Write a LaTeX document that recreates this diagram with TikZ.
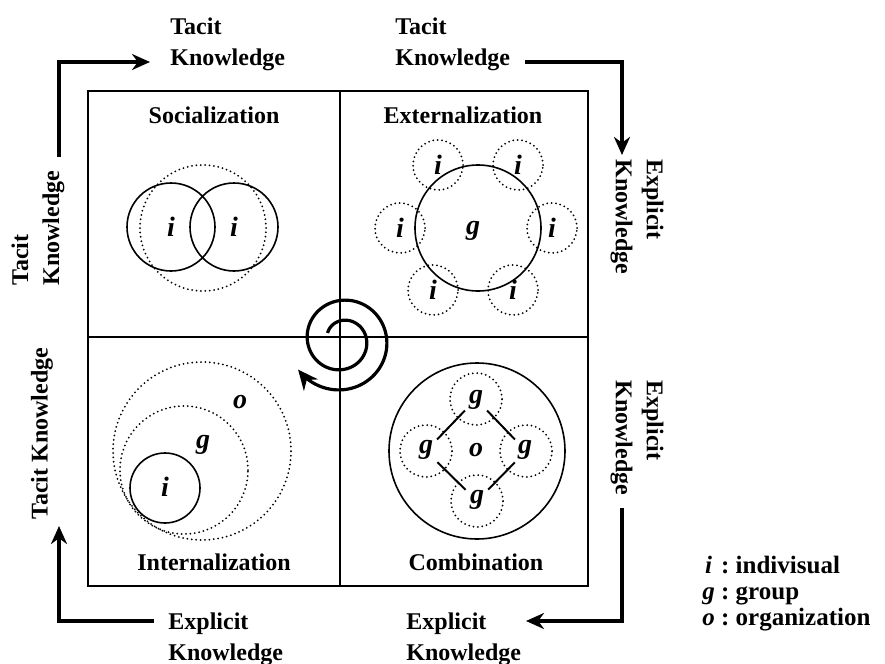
\documentclass[tikz,border=0pt]{standalone}
\usepackage{fontspec}
\setmainfont{Liberation Serif}
\usetikzlibrary{arrows.meta}
\begin{document}
\begin{tikzpicture}[x=0.5pt,y=-0.5pt,
  lbl/.style={font=\fontsize{12}{15.5}\selectfont\bfseries, inner sep=0pt, align=left},
  qlbl/.style={font=\fontsize{12}{14}\selectfont\bfseries, inner sep=0pt},
  var/.style={font=\fontsize{14}{14}\selectfont\bfseries\itshape, inner sep=0pt},
  solidc/.style={circle, draw, line width=0.8pt, inner sep=0pt},
  dotc/.style={circle, draw, line width=1pt, dash pattern=on 0pt off 2.2pt, line cap=round, inner sep=0pt},
  flow/.style={line width=2pt, -{Stealth[length=9pt,width=8pt]}},
  frame/.style={line width=0.8pt},
  link/.style={line width=1pt, shorten <=8pt, shorten >=8pt}
]
\useasboundingbox[fill=white] (0,0) rectangle (885,664);

% frame
\draw[frame] (88,91) rectangle (588,586);
\draw[frame] (340,91) -- (340,586);
\draw[frame] (88,337) -- (588,337);

% quadrant titles
\node[qlbl] (soc) at (214,115) {Socialization};
\node[qlbl] (ext) at (463,115) {Externalization};
\node[qlbl] (int) at (214,562) {Internalization};
\node[qlbl] (com) at (476,562) {Combination};

% outer labels
\node[lbl, anchor=west] (topL) at (170,44) {Tacit\\Knowledge};
\node[lbl, anchor=west] (topR) at (395,44) {Tacit\\Knowledge};
\node[lbl, anchor=west, rotate=-90] (rightU) at (637,159) {Explicit\\Knowledge};
\node[lbl, anchor=west, rotate=-90] (rightD) at (637,380) {Explicit\\Knowledge};
\node[lbl, anchor=west] (botR) at (406,639) {Explicit\\Knowledge};
\node[lbl, anchor=west] (botL) at (168,639) {Explicit\\Knowledge};
\node[lbl, anchor=west, rotate=90] (leftD) at (42,520) {Tacit Knowledge};
\node[lbl, anchor=west, rotate=90] (leftU) at (38,286) {Tacit\\Knowledge};

% outer flow arrows
\coordinate (tl0) at (59,157); \coordinate (tl1) at (150,62);
\coordinate (tr0) at (525,62); \coordinate (tr1) at (622,155);
\coordinate (br0) at (622,508); \coordinate (br1) at (526,621);
\coordinate (bl0) at (154,621); \coordinate (bl1) at (59,526);
\draw[flow] (tl0) |- (tl1);
\draw[flow] (tr0) -| (tr1);
\draw[flow] (br0) |- (br1);
\draw[flow] (bl0) -| (bl1);

% Socialization
\node[dotc, minimum size=63pt] (sD) at (203,228) {};
\node[solidc, minimum size=44pt] (sA) at (171,227) {};
\node[solidc, minimum size=44pt] (sB) at (234,227) {};
\node[var] (sAi) at (171,227) {i};
\node[var] (sBi) at (234,227) {i};

% Externalization
\node[solidc, minimum size=63pt] (eG) at (478,228) {};
\node[var] (eGg) at (473,231) {g};
\foreach \n/\x/\y in {e1/438/165, e2/518/165, e3/400/228, e4/552/228, e5/433/290, e6/513/290}{
  \node[dotc, minimum size=25pt] (\n) at (\x,\y) {};
  \node[var] (\n i) at (\x,\y) {i};
}

% Internalization
\node[dotc, minimum size=89pt] (iO) at (202,451) {};
\node[dotc, minimum size=64pt] (iG) at (184,470) {};
\node[solidc, minimum size=35pt] (iI) at (165,488) {};
\node[var] (iOo) at (240,402) {o};
\node[var] (iGg) at (203,445) {g};
\node[var] (iIi) at (165,487) {i};

% Combination
\node[solidc, minimum size=88pt] (cO) at (477,451) {};
\node[var] (cOo) at (476,450) {o};
\node[dotc, minimum size=26pt] (cT) at (476,399) {};
\node[dotc, minimum size=26pt] (cL) at (426,451) {};
\node[dotc, minimum size=26pt] (cR) at (526,451) {};
\node[dotc, minimum size=26pt] (cB) at (477,501) {};
\node[var] (cTg) at (476,400) {g};
\node[var] (cLg) at (426,450) {g};
\node[var] (cRg) at (525,450) {g};
\node[var] (cBg) at (477,500) {g};
\draw[link] (cT.center) -- (cL.center);
\draw[link] (cT.center) -- (cR.center);
\draw[link] (cB.center) -- (cL.center);
\draw[link] (cB.center) -- (cR.center);

% spiral
\draw[line width=1.6pt, -{Stealth[length=10pt,width=9pt]}]
  plot[domain=206:866, samples=160, variable=\t]
  ({342+(16+(\t-206)*0.056)*cos(\t)}, {340+(16+(\t-206)*0.056)*sin(\t)});

% legend
\node[font=\fontsize{12.5}{13}\selectfont\bfseries, anchor=west, inner sep=0pt] (legend) at (702,594)
  {\begin{tabular}{@{}c@{\ :\ }l@{}}\textit{i} & indivisual\\ \textit{g} & group\\ \textit{o} & organization\end{tabular}};
\end{tikzpicture}
\end{document}
